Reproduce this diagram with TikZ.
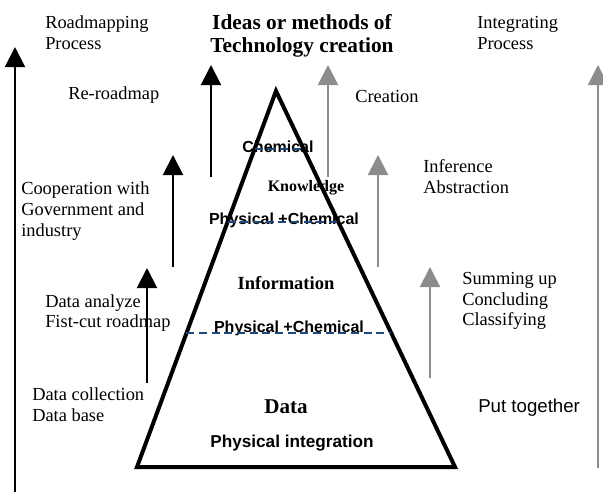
\documentclass[tikz,border=0pt]{standalone}
\usepackage{fontspec}
\setmainfont{Liberation Serif}
\newfontfamily\arialf{Liberation Sans}
\usetikzlibrary{arrows.meta,calc}
\definecolor{arrgray}{RGB}{140,140,140}
\definecolor{dashblue}{RGB}{31,73,125}
\begin{document}
\begin{tikzpicture}[x=0.75pt,y=-0.75pt,
  lbl/.style={inner sep=0pt, font=\fontsize{13.8}{15.6}\selectfont, align=left, anchor=west},
  sfb/.style={inner sep=0pt, font=\arialf\fontsize{12}{14}\selectfont\bfseries},
  tmb/.style={inner sep=0pt, font=\fontsize{#1}{#1}\selectfont\bfseries},
  blk/.style={-{Triangle[width=15pt,length=15pt]}, line width=1.5pt, draw=black},
  gry/.style={-{Triangle[width=15pt,length=15pt]}, line width=1.5pt, draw=arrgray},
  tri/.style={line width=3pt, line join=miter},
  dsh/.style={draw=dashblue, line width=1pt, dash pattern=on 6pt off 3.5pt}]
\useasboundingbox (0,0) rectangle (603,493);

% titles and texts
\node[inner sep=0pt, font=\fontsize{16}{17.3}\selectfont\bfseries, align=center] (title) at (302,36) {Ideas or methods of\\Technology creation};
\node[sfb] (chem1) at (278,147) {Chemical};
\node[tmb=12] (know) at (306,188) {Knowledge};
\node[sfb] (pc1) at (284,220) {Physical +Chemical};
\node[tmb=13.9] (info) at (286,283) {Information};
\node[sfb] (pc2) at (289,328) {Physical +Chemical};
\node[tmb=15.8] (data) at (286,407) {Data};
\node[inner sep=0pt, font=\arialf\fontsize{12.9}{14}\selectfont\bfseries] (phint) at (292,443) {Physical integration};

\node[lbl] (roadproc) at (45,33) {Roadmapping\\Process};
\node[lbl] (reroad) at (68,95) {Re-roadmap};
\node[lbl] (coop) at (21,211) {Cooperation with\\Government and\\industry};
\node[lbl] (dana) at (45,313) {Data analyze\\Fist-cut roadmap};
\node[lbl] (dcoll) at (32,405) {Data collection\\Data base};

\node[lbl] (integ) at (477,33) {Integrating\\Process};
\node[lbl] (creat) at (355,96) {Creation};
\node[lbl] (infer) at (423,177) {Inference\\Abstraction};
\node[lbl] (summ) at (462,301) {Summing up\\Concluding\\Classifying};
\node[inner sep=0pt, anchor=west, font=\arialf\fontsize{14}{16}\selectfont] (putt) at (478,408) {Put together};

% triangle
\coordinate (A) at (276,91);
\coordinate (B) at (137,467);
\coordinate (C) at (455,467);
\draw[tri] (A) -- (B) -- (C) -- cycle;

% dashed levels
\draw[dsh] ($(A)!0.154!(B)$) -- ($(A)!0.154!(C)$);
\draw[dsh] ($(A)!0.348!(B)$) -- ($(A)!0.348!(C)$);
\draw[dsh] ($(A)!0.644!(B)$) -- ($(A)!0.644!(C)$);

% black arrows
\coordinate (a1s) at (15,492);  \coordinate (a1e) at (15,47);
\coordinate (a2s) at (147,383); \coordinate (a2e) at (147,268);
\coordinate (a3s) at (173,267); \coordinate (a3e) at (173,155);
\coordinate (a4s) at (211,177); \coordinate (a4e) at (211,65);
\draw[blk] (a1s) -- (a1e);
\draw[blk] (a2s) -- (a2e);
\draw[blk] (a3s) -- (a3e);
\draw[blk] (a4s) -- (a4e);

% gray arrows
\coordinate (g1s) at (328,177); \coordinate (g1e) at (328,65);
\coordinate (g2s) at (378,267); \coordinate (g2e) at (378,155);
\coordinate (g3s) at (430,378); \coordinate (g3e) at (430,267);
\coordinate (g4s) at (598,468); \coordinate (g4e) at (598,65);
\draw[gry] (g1s) -- (g1e);
\draw[gry] (g2s) -- (g2e);
\draw[gry] (g3s) -- (g3e);
\draw[gry] (g4s) -- (g4e);
\end{tikzpicture}
\end{document}
